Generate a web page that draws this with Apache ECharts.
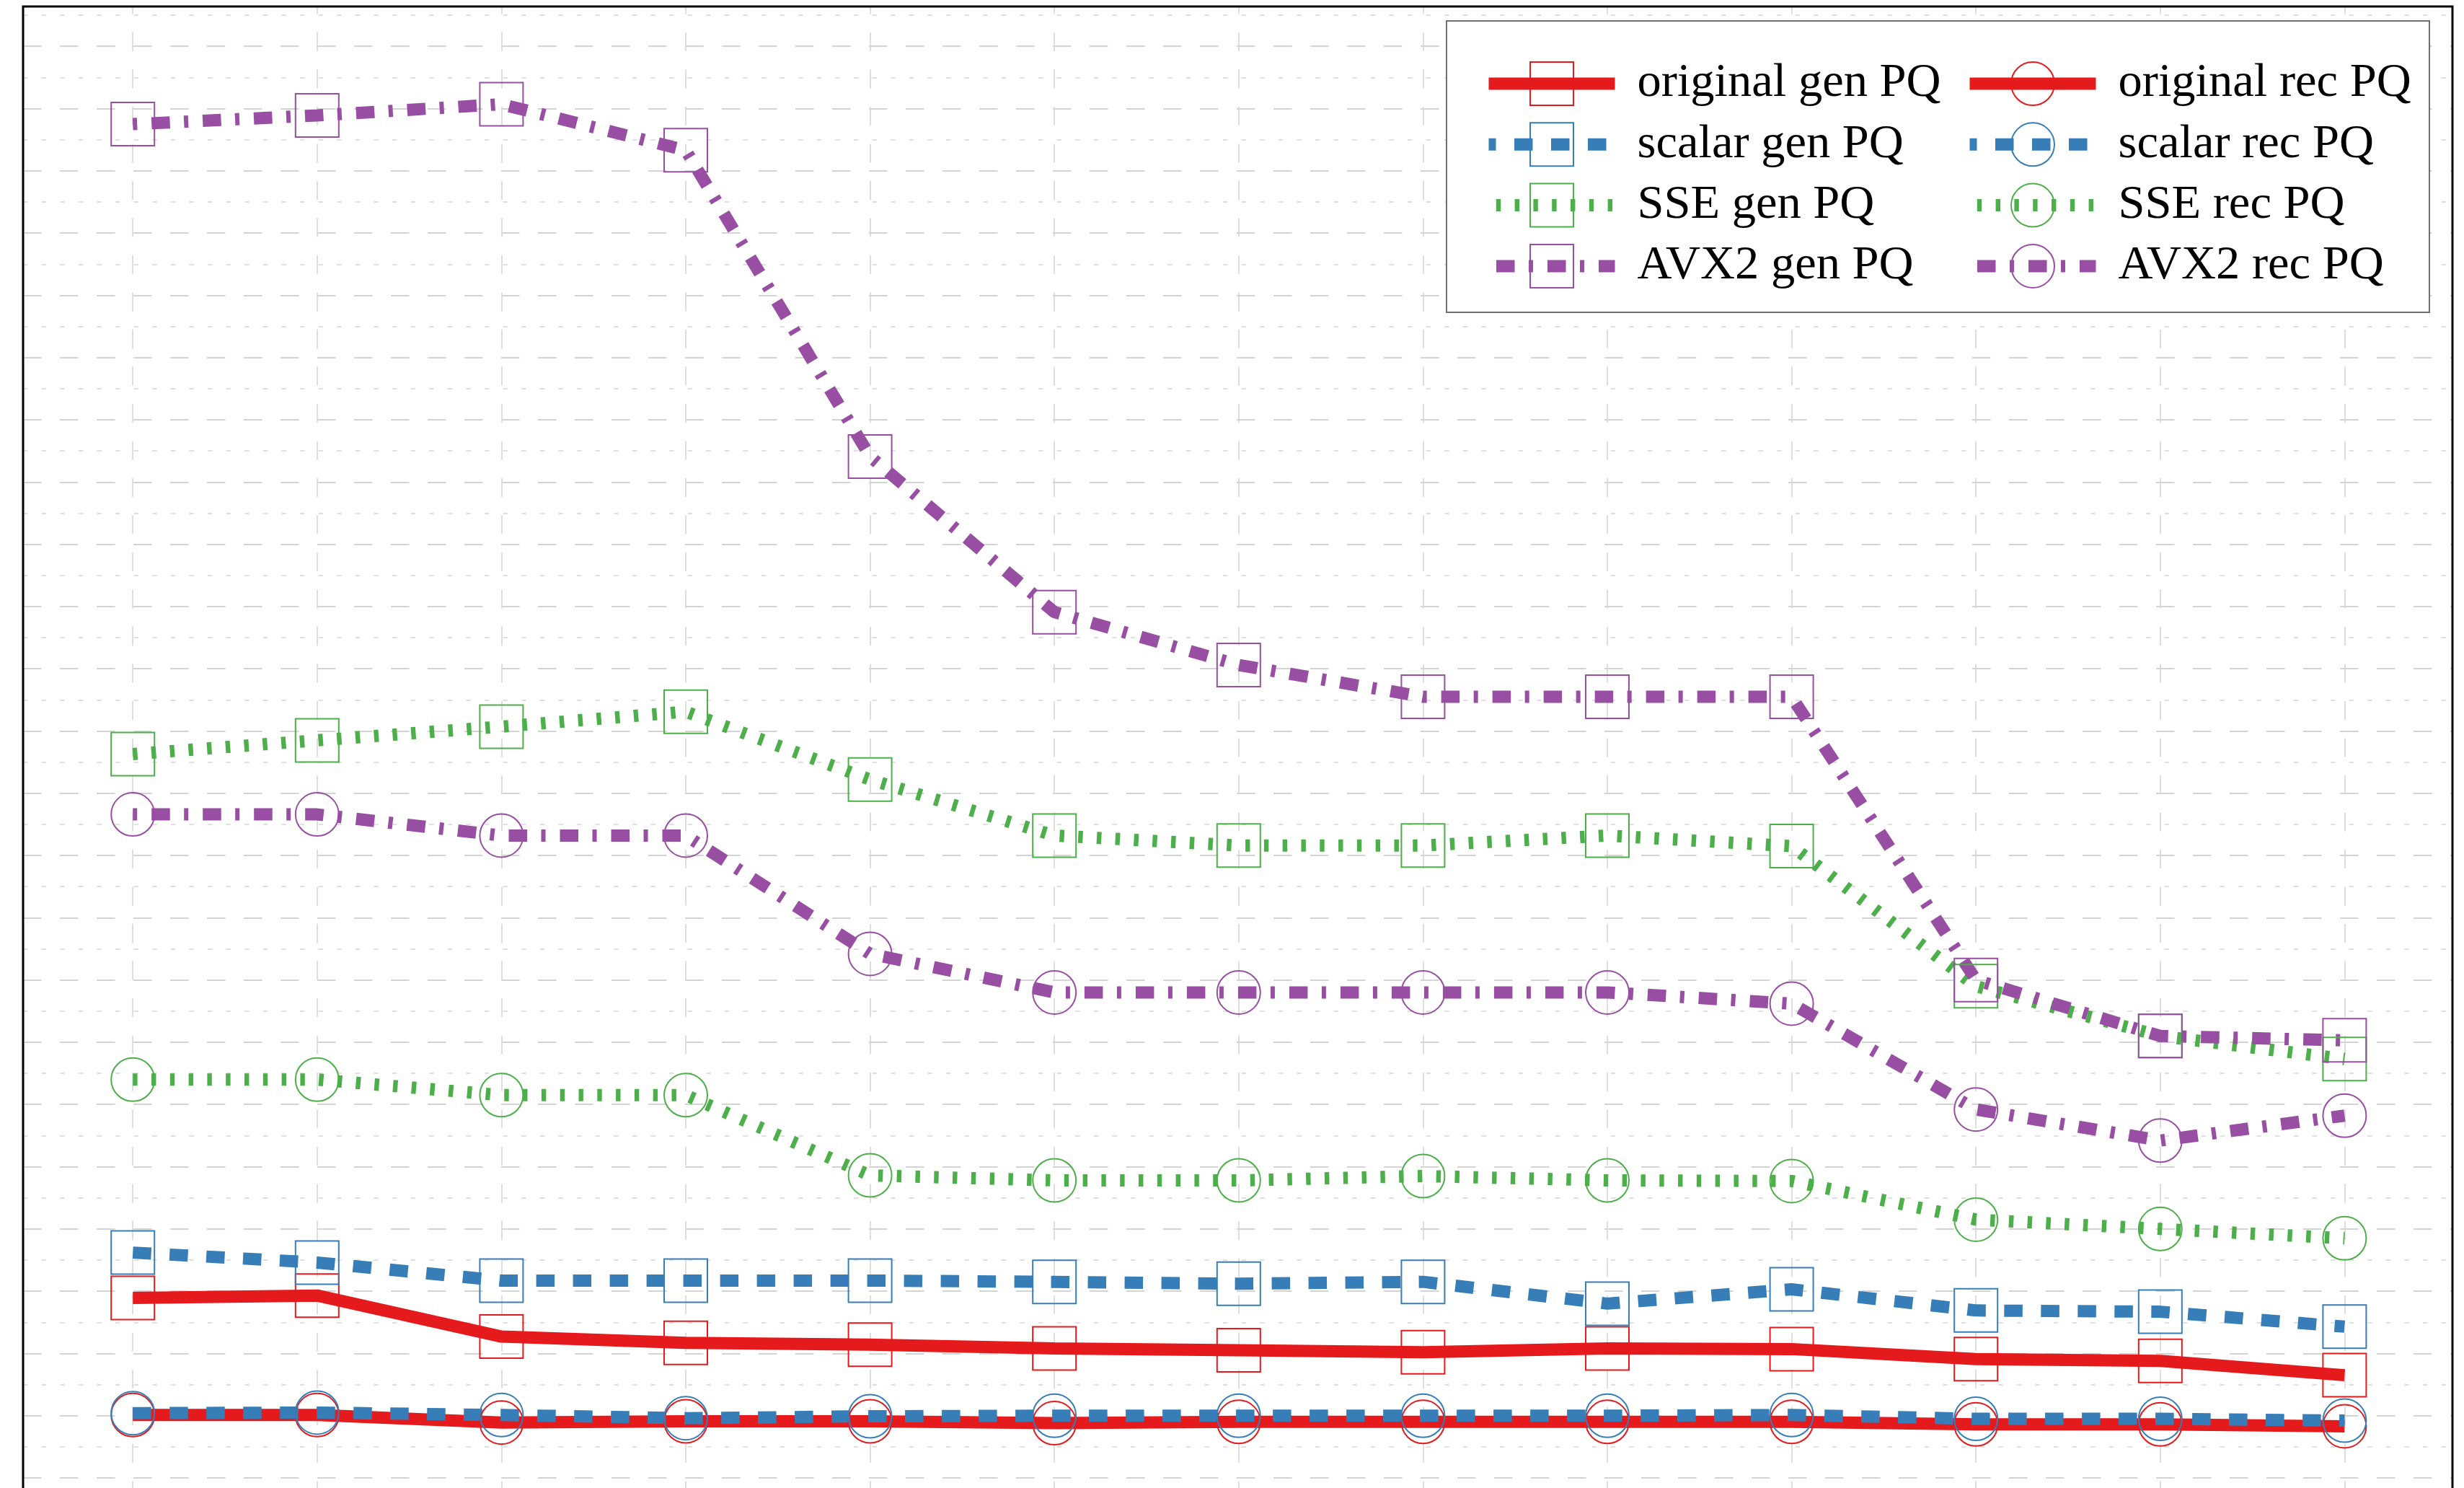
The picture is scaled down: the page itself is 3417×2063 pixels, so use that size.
<!DOCTYPE html>
<html>
<head>
<meta charset="utf-8">
<script src="https://cdn.jsdelivr.net/npm/echarts@6/dist/echarts.min.js"></script>
<style>
html,body{margin:0;padding:0;background:#ffffff;}
#chart{width:3417px;height:2063px;}
</style>
</head>
<body>
<div id="chart"></div>
<script>
// ---- data (y in arbitrary units, axis labels are not shown) ----
const categories = ['1', '2', '3', '4', '5', '6', '7', '8', '9', '10', '11', '12', '13'];

const originalGen = [2.89, 2.93, 2.27, 2.17, 2.14, 2.08, 2.05, 2.02, 2.08, 2.07, 1.91, 1.88, 1.65];
const scalarGen   = [3.62, 3.46, 3.17, 3.17, 3.17, 3.15, 3.12, 3.15, 2.80, 3.03, 2.69, 2.67, 2.43];
const sseGen      = [11.63, 11.85, 12.07, 12.31, 11.22, 10.32, 10.16, 10.16, 10.32, 10.15, 7.90, 7.10, 6.73];
const avx2Gen     = [21.75, 21.89, 22.07, 21.33, 16.41, 13.91, 13.06, 12.55, 12.55, 12.55, 8.00, 7.10, 7.03];

const originalRec = [1.01, 1.01, 0.89, 0.91, 0.91, 0.88, 0.90, 0.90, 0.90, 0.90, 0.86, 0.86, 0.83];
const scalarRec   = [1.04, 1.05, 1.01, 0.96, 0.99, 1.00, 1.00, 1.00, 1.00, 1.01, 0.95, 0.95, 0.92];
const sseRec      = [6.40, 6.40, 6.15, 6.15, 4.86, 4.78, 4.78, 4.85, 4.78, 4.77, 4.15, 4.00, 3.85];
const avx2Rec     = [10.66, 10.66, 10.32, 10.32, 8.42, 7.80, 7.80, 7.80, 7.80, 7.62, 5.92, 5.42, 5.82];

const genNames = ['original gen PQ', 'scalar gen PQ', 'SSE gen PQ', 'AVX2 gen PQ'];
const recNames = ['original rec PQ', 'scalar rec PQ', 'SSE rec PQ', 'AVX2 rec PQ'];

const yMin = -1;
const yMax = 23.64;

// ---- styles ----
const variantStyle = [
  { color: '#e41a1c', dash: 'solid' },
  { color: '#377eb8', dash: [25.5, 25.5] },
  { color: '#4daf4a', dash: [6.4, 19.4] },
  { color: '#984ea3', dash: [6, 20, 25.5, 19.5] }
];

function makeSeries(name, data, style, symbol) {
  return {
    name: name,
    type: 'line',
    xAxisIndex: 1,
    yAxisIndex: 2,
    data: data,
    symbol: symbol,
    symbolSize: 60,
    showSymbol: true,
    showAllSymbol: true,
    lineStyle: { color: style.color, width: 17, type: style.dash, cap: 'butt' },
    itemStyle: { color: 'rgba(0,0,0,0)', borderColor: style.color, borderWidth: 2 },
    emphasis: { disabled: true },
    animation: false
  };
}

const genData = [originalGen, scalarGen, sseGen, avx2Gen];
const recData = [originalRec, scalarRec, sseRec, avx2Rec];
const series = [];
genData.forEach((d, i) => series.push(makeSeries(genNames[i], d, variantStyle[i], 'rect')));
recData.forEach((d, i) => series.push(makeSeries(recNames[i], d, variantStyle[i], 'circle')));

const legendCommon = {
  orient: 'vertical',
  top: 78.5,
  padding: 0,
  itemWidth: 175,
  itemHeight: 75,
  itemGap: 9.3,
  selectedMode: false,
  z: 110,
  textStyle: {
    fontFamily: 'Liberation Serif',
    fontSize: 66.5,
    color: '#000',
    lineHeight: 63,
    padding: [12, 0, 0, 26]
  },
  lineStyle: { width: 'inherit' },
  itemStyle: { borderWidth: 2 }
};

const plotTop = 9;
const plotHeight = 2126.3;

const option = {
  animation: false,
  backgroundColor: '#ffffff',
  grid: [
    { left: 32, width: 3369, top: plotTop, height: plotHeight, show: false, containLabel: false, outerBoundsMode: 'none' },
    { left: 184.2, width: 3067.2, top: plotTop, height: plotHeight, show: false, containLabel: false, outerBoundsMode: 'none' }
  ],
  xAxis: [
    { gridIndex: 0, type: 'value', min: 0, max: 1, show: false },
    {
      gridIndex: 1, type: 'category', data: categories, boundaryGap: false,
      axisLine: { show: false }, axisTick: { show: false }, axisLabel: { show: false },
      splitLine: { show: true, interval: 0, lineStyle: { color: '#d6d6d6', width: 1.6, type: [26, 25.5], dashOffset: 15.5 } }
    }
  ],
  yAxis: [
    {
      gridIndex: 0, type: 'value', min: yMin, max: yMax, interval: 0.5,
      axisLine: { show: false }, axisTick: { show: false }, axisLabel: { show: false },
      splitLine: { show: true, lineStyle: { color: ['rgba(0,0,0,0)', '#e0e0e0'], width: 2, type: [6.5, 19.1] } }
    },
    {
      gridIndex: 0, type: 'value', min: yMin, max: yMax, interval: 1,
      axisLine: { show: false }, axisTick: { show: false }, axisLabel: { show: false },
      splitLine: { show: true, lineStyle: { color: '#d4d4d4', width: 2, type: [25.5, 25.5] } }
    },
    { gridIndex: 1, type: 'value', min: yMin, max: yMax, show: false }
  ],
  legend: [
    Object.assign({}, legendCommon, { left: 2056, data: genNames }),
    Object.assign({}, legendCommon, { left: 2723, data: recNames })
  ],
  graphic: [
    {
      type: 'rect', z: 50, silent: true,
      shape: { x: 32, y: 9, width: 3369, height: 2300 },
      style: { fill: 'none', stroke: '#000', lineWidth: 3 }
    },
    {
      type: 'rect', z: 100, silent: true,
      shape: { x: 2006, y: 29, width: 1363, height: 404 },
      style: { fill: '#ffffff', stroke: '#707070', lineWidth: 2 }
    }
  ],
  series: series
};

const chart = echarts.init(document.getElementById('chart'), null, { renderer: 'canvas' });
chart.setOption(option);
</script>
</body>
</html>
